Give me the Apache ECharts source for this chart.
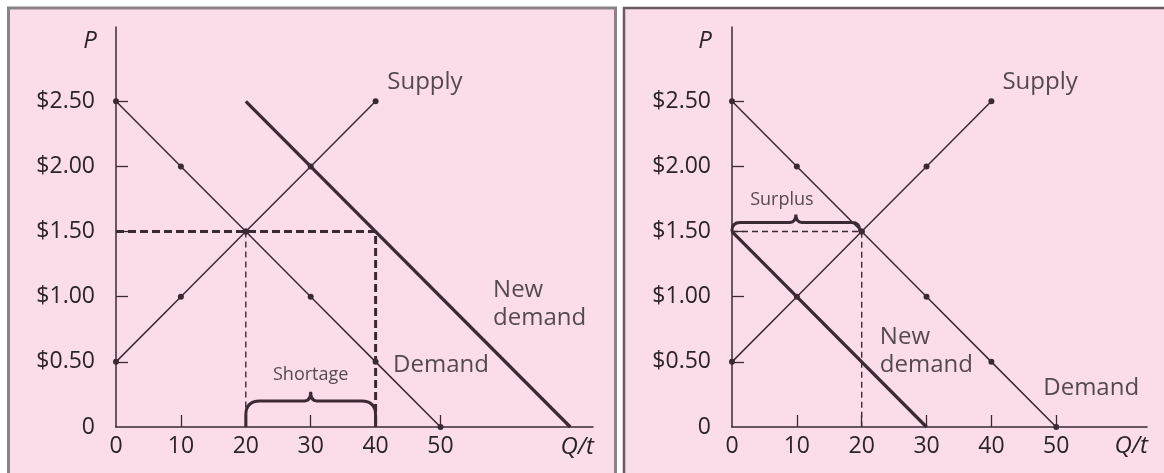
<!DOCTYPE html>
<html>
<head>
<meta charset="utf-8">
<script src="https://cdn.jsdelivr.net/npm/echarts@6/dist/echarts.min.js"></script>
<style>
  html, body { margin: 0; padding: 0; background: #fff; }
  #chart { width: 1164px; height: 473px; }
</style>
</head>
<body>
<div id="chart"></div>
<script>
// 数据：价格 P 与数量 Q
const demandQ = [0, 10, 20, 30, 40, 50];
const demandP = [2.5, 2.0, 1.5, 1.0, 0.5, 0];
const supplyQ = [0, 10, 20, 30, 40];
const supplyP = [0.5, 1.0, 1.5, 2.0, 2.5];
const newDemandUpQ = [20, 70];      // 左图：需求右移
const newDemandUpP = [2.5, 0];
const newDemandDownQ = [0, 30];     // 右图：需求左移
const newDemandDownP = [1.5, 0];
const fixedPrice = 1.5;
const shortageRange = [20, 40];
const surplusRange = [0, 20];
const priceTicks = [0, 0.5, 1.0, 1.5, 2.0, 2.5];
const qTicks = [0, 10, 20, 30, 40, 50];

const ink = '#3b2a33';
const textColor = '#2a2427';
const font = 'Open Sans';

const pairs = (qs, ps) => qs.map((q, i) => [q, ps[i]]);

const chart = echarts.init(document.getElementById('chart'));

// 坐标轴（两个图共用一套样式）
const makeX = (gridIndex, max) => ({
  type: 'value', gridIndex, min: 0, max,
  axisLine: { lineStyle: { color: ink, width: 1.5 } },
  axisTick: { show: true, inside: true, length: 12, customValues: qTicks.slice(1), lineStyle: { color: ink, width: 1.3 } },
  axisLabel: { customValues: qTicks, fontSize: 23, color: textColor, fontFamily: font, margin: 8 },
  splitLine: { show: false }
});
const makeY = (gridIndex) => ({
  type: 'value', gridIndex, min: 0, max: 3.07,
  axisLine: { lineStyle: { color: ink, width: 1.5 } },
  axisTick: { show: true, inside: true, length: 12, customValues: priceTicks.slice(1), lineStyle: { color: ink, width: 1.3 } },
  axisLabel: {
    customValues: priceTicks, fontSize: 23, color: textColor, fontFamily: font, margin: 21,
    formatter: v => v === 0 ? '0' : '$' + v.toFixed(2)
  },
  splitLine: { show: false }
});

const thinLine = (idx, data, symbols) => ({
  type: 'line', xAxisIndex: idx, yAxisIndex: idx, data,
  symbol: symbols ? 'circle' : 'none', symbolSize: 6,
  itemStyle: { color: ink }, lineStyle: { color: ink, width: 1.5 }, z: 3
});
const thickLine = (idx, data) => ({
  type: 'line', xAxisIndex: idx, yAxisIndex: idx, data, symbol: 'none',
  lineStyle: { color: ink, width: 3.2 }, z: 3
});
const dashed = (idx, data, width, dash) => ({
  type: 'line', xAxisIndex: idx, yAxisIndex: idx, data, symbol: 'none',
  lineStyle: { color: ink, width, type: dash }, z: 2
});

// 大括号：[起点Q, 终点Q, 基线P, 括号P, 尖端P]
const brace = (idx, item, r) => ({
  type: 'custom', xAxisIndex: idx, yAxisIndex: idx, data: [item], z: 4,
  renderItem: (params, api) => {
    const a = api.coord([api.value(0), api.value(2)]);
    const b = api.coord([api.value(1), api.value(2)]);
    const yh = api.coord([0, api.value(3)])[1];
    const yt = api.coord([0, api.value(4)])[1];
    const xm = (a[0] + b[0]) / 2;
    const dir = yh < a[1] ? -1 : 1;
    const s = 6;
    const d = [
      'M', a[0], a[1],
      'L', a[0], yh - dir * r,
      'Q', a[0], yh, a[0] + r, yh,
      'L', xm - s, yh,
      'Q', xm, yh, xm, yt,
      'Q', xm, yh, xm + s, yh,
      'L', b[0] - r, yh,
      'Q', b[0], yh, b[0], yh - dir * r,
      'L', b[0], b[1]
    ].join(' ');
    return {
      type: 'path', shape: { pathData: d },
      style: { fill: null, stroke: ink, lineWidth: 3 }
    };
  }
});

const labels = (idx, items) => ({
  type: 'scatter', xAxisIndex: idx, yAxisIndex: idx, symbolSize: 0, z: 5,
  data: items.map(it => ({ value: it.at, name: it.text, label: it.style })),
  label: {
    show: true, formatter: '{b}', position: 'inside', color: textColor,
    fontFamily: font, fontSize: 24, align: 'left', verticalAlign: 'middle', lineHeight: 28
  }
});

const option = {
  backgroundColor: '#ffffff',
  animation: false,
  graphic: [
    { type: 'rect', z: -10, shape: { x: 8.5, y: 8, width: 607, height: 470 },
      style: { fill: '#fbdce9', stroke: '#8a8286', lineWidth: 3 } },
    { type: 'rect', z: -10, shape: { x: 624, y: 8, width: 545, height: 470 },
      style: { fill: '#fbdce9', stroke: '#6a5a62', lineWidth: 2.5 } },
    { type: 'text', z: 10, style: { text: 'P', x: 90, y: 41, align: 'center', verticalAlign: 'middle',
      font: 'italic 24px "Open Sans"', fill: textColor } },
    { type: 'text', z: 10, style: { text: 'P', x: 705, y: 41, align: 'center', verticalAlign: 'middle',
      font: 'italic 24px "Open Sans"', fill: textColor } },
    { type: 'text', z: 10, style: { text: 'Q/t', x: 594, y: 447, align: 'right', verticalAlign: 'middle',
      font: 'italic 24px "Open Sans"', fill: textColor } },
    { type: 'text', z: 10, style: { text: 'Q/t', x: 1148, y: 446, align: 'right', verticalAlign: 'middle',
      font: 'italic 24px "Open Sans"', fill: textColor } }
  ],
  grid: [
    { left: 116, top: 27, width: 477, height: 400 },
    { left: 732, top: 27, width: 415, height: 400 }
  ],
  xAxis: [makeX(0, 73.5), makeX(1, 64)],
  yAxis: [makeY(0), makeY(1)],
  series: [
    // 左图：需求增加 -> 短缺
    dashed(0, [[0, fixedPrice], [40, fixedPrice], [40, 0]], 3, [8, 4]),
    dashed(0, [[20, fixedPrice], [20, 0]], 1.4, [6, 4]),
    thinLine(0, pairs(demandQ, demandP), true),
    thinLine(0, pairs(supplyQ, supplyP), true),
    thickLine(0, pairs(newDemandUpQ, newDemandUpP)),
    brace(0, [shortageRange[0], shortageRange[1], 0, 0.2, 0.27], 14),
    labels(0, [
      { text: 'Supply', at: [41.8, 2.65] },
      { text: 'New\ndemand', at: [58.1, 0.94] },
      { text: 'Demand', at: [42.7, 0.475] },
      { text: 'Shortage', at: [30, 0.4], style: { fontSize: 18, align: 'center' } }
    ]),

    // 右图：需求减少 -> 过剩
    dashed(1, [[0, fixedPrice], [20, fixedPrice], [20, 0]], 1.4, [6, 4]),
    thinLine(1, pairs(demandQ, demandP), true),
    thinLine(1, pairs(supplyQ, supplyP), true),
    thickLine(1, pairs(newDemandDownQ, newDemandDownP)),
    brace(1, [surplusRange[0], surplusRange[1] - 0.3, fixedPrice, 1.57, 1.63], 8),
    labels(1, [
      { text: 'Supply', at: [41.7, 2.65] },
      { text: 'New\ndemand', at: [22.8, 0.58] },
      { text: 'Demand', at: [48, 0.3] },
      { text: 'Surplus', at: [7.7, 1.74], style: { fontSize: 18, align: 'center' } }
    ])
  ]
};

chart.setOption(option);
</script>
</body>
</html>
